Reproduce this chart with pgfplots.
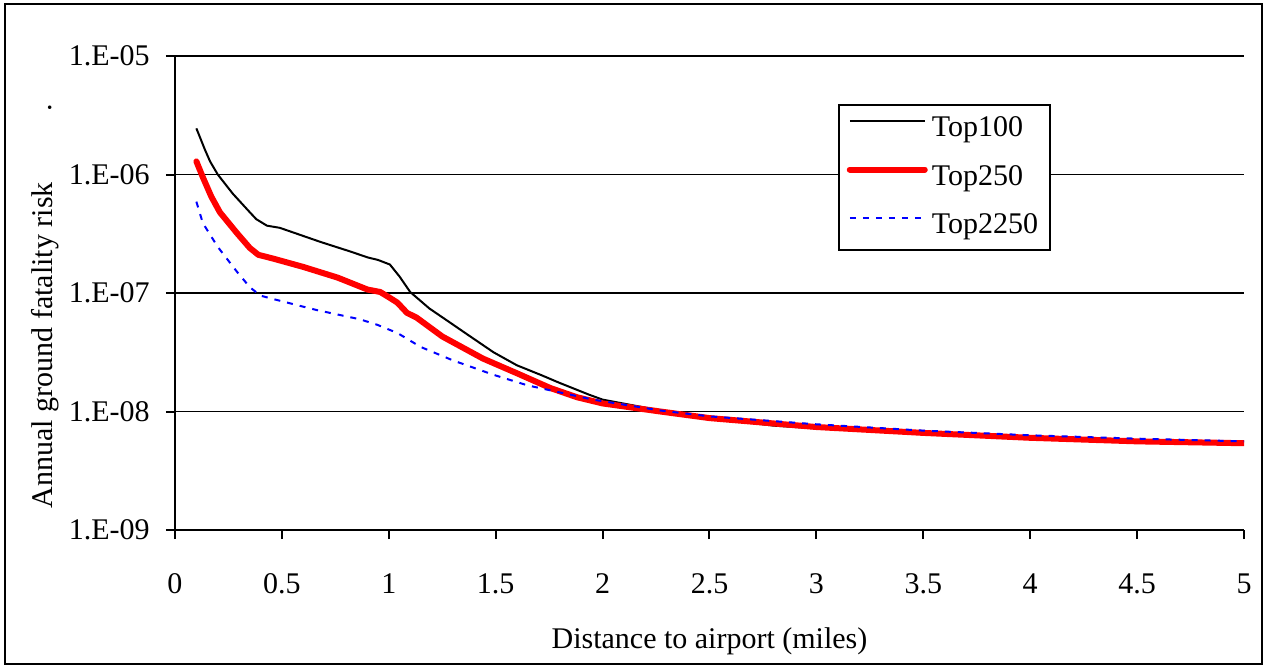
\documentclass[border=0pt]{standalone}
\usepackage{pgfplots}
\pgfplotsset{compat=1.18}
\usepackage{fontspec}
\setmainfont{Liberation Serif}
\begin{document}
\fontsize{15bp}{18bp}\selectfont
\begin{tikzpicture}
\useasboundingbox (-87.5bp,-68bp) rectangle (546bp,265bp);
\begin{axis}[
    scale only axis,
    width=534.5bp, height=237bp,
    at={(0,0)}, anchor=south west,
    ymode=log,
    xmin=0, xmax=5,
    ymin=1e-9, ymax=1e-5,
    axis x line=bottom, axis y line=left,
    axis line style={-, line width=1bp},
    xtick={0,0.5,1,1.5,2,2.5,3,3.5,4,4.5,5},
    xticklabels={0,0.5,1,1.5,2,2.5,3,3.5,4,4.5,5},
    ytick={1e-9,1e-8,1e-7,1e-6,1e-5},
    yticklabels={1.E-09,1.E-08,1.E-07,1.E-06,1.E-05},
    yminorticks=false,
    tick align=outside,
    major tick length=4.5bp,
    tick style={black, line width=1bp},
    ymajorgrids=true,
    grid style={black, line width=0.9bp},
    xticklabel style={yshift=-12bp},
    yticklabel style={xshift=-3bp},
    xlabel={Distance to airport (miles)},
    xlabel style={at={(axis description cs:0.5,0)}, anchor=base, yshift=-59bp},
    ylabel={Annual ground fatality risk},
    ylabel style={at={(axis description cs:-0.115,0.39)}, anchor=base},
    legend style={at={(axis description cs:0.62,0.899)}, anchor=north west,
        draw=black, line width=1bp, inner xsep=4bp, inner ysep=4bp,
        row sep=8bp, cells={anchor=west}},
    legend cell align=left,
    legend image code/.code={\draw[#1] (0bp,4bp) -- (37.5bp,4bp);},
]
\addplot[black, line width=1bp] coordinates {
 (0.1,2.45e-6) (0.14,1.62e-6) (0.164,1.29e-6) (0.20,1.0e-6) (0.27,6.9e-7)
 (0.35,4.8e-7) (0.38,4.2e-7) (0.43,3.7e-7) (0.49,3.55e-7) (0.68,2.7e-7)
 (0.82,2.24e-7) (0.90,2.0e-7) (0.95,1.9e-7) (1.005,1.74e-7) (1.05,1.38e-7)
 (1.10,1.02e-7) (1.19,7.4e-8) (1.27,5.9e-8) (1.365,4.5e-8) (1.49,3.16e-8)
 (1.60,2.45e-8) (1.71,2.04e-8) (1.80,1.74e-8) (1.94,1.38e-8) (2.00,1.26e-8)
 (2.27,1.02e-8) (2.5,8.8e-9) (2.8,7.6e-9) (3.0,7.2e-9) (3.5,6.6e-9)
 (4.0,6.1e-9) (4.5,5.7e-9) (5.0,5.5e-9)
};
\addlegendentry{Top100}
\addplot[red, line width=3bp, line cap=round, line join=round] coordinates {
 (0.1,1.29e-6) (0.13,9.5e-7) (0.17,6.5e-7) (0.21,4.8e-7) (0.29,3.2e-7)
 (0.35,2.4e-7) (0.39,2.1e-7) (0.46,1.95e-7) (0.60,1.66e-7) (0.76,1.35e-7)
 (0.90,1.07e-7) (0.96,1.02e-7) (1.005,9.1e-8) (1.04,8.3e-8) (1.085,6.8e-8)
 (1.13,6.2e-8) (1.25,4.3e-8) (1.44,2.8e-8) (1.60,2.1e-8) (1.755,1.58e-8)
 (1.88,1.32e-8) (2.00,1.17e-8) (2.27,1.0e-8) (2.5,8.8e-9) (3.0,7.4e-9)
 (3.5,6.6e-9) (4.0,6.0e-9) (4.5,5.6e-9) (5.0,5.4e-9)
};
\addlegendentry{Top250}
\addplot[blue, line width=1bp, dash pattern=on 3bp off 3.5bp] coordinates {
 (0.1,5.9e-7) (0.13,3.9e-7) (0.20,2.45e-7) (0.29,1.51e-7) (0.35,1.12e-7)
 (0.40,9.5e-8) (0.48,8.7e-8) (0.66,7.2e-8) (0.865,6.0e-8) (0.945,5.4e-8)
 (1.04,4.6e-8) (1.15,3.5e-8) (1.30,2.7e-8) (1.49,2.04e-8) (1.65,1.66e-8)
 (1.80,1.45e-8) (1.955,1.26e-8) (2.27,1.02e-8) (2.5,9.1e-9) (3.0,7.8e-9)
 (3.5,6.9e-9) (4.0,6.3e-9) (4.5,5.9e-9) (5.0,5.6e-9)
};
\addlegendentry{Top2250}
\end{axis}
\node[rotate=90, anchor=base] at (-61.5bp,211bp) {.};
\draw[line width=1bp] (-85bp,-67bp) rectangle (543.5bp,263bp);
\end{tikzpicture}
\end{document}
